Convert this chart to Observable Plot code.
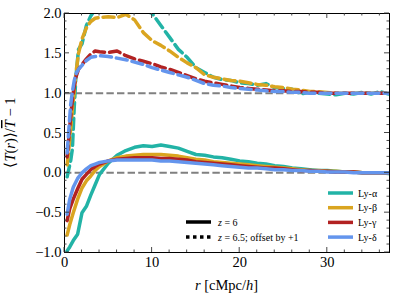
<!DOCTYPE html>
<html><head><meta charset="utf-8">
<script src="https://cdn.jsdelivr.net/npm/d3@7"></script>
<script src="https://cdn.jsdelivr.net/npm/@observablehq/plot@0.6"></script>
<style>body{margin:0;background:#fff}</style>
</head><body><div id="chart"></div>
<script>
const seriesNames = ["Ly-α","Ly-β","Ly-γ","Ly-δ"];
const seriesColors = ["#22b3a6","#daa520","#b22222","#6495ed"];

// z = 6 (solid)
const rSolid = [0.3,0.6,1,1.5,2,2.5,3,3.5,4,5,6,7,8,9,10,11,12,13,14,15,16,17,18,19,20,21,22,23,24,25,26,27,28,29,30,31,32,33,34,35,36,37];
const alphaZ6 = [-0.98,-0.93,-0.85,-0.77,-0.5,-0.42,-0.28,-0.15,-0.02,0.12,0.22,0.28,0.32,0.34,0.33,0.35,0.33,0.31,0.27,0.23,0.22,0.2,0.19,0.17,0.15,0.14,0.12,0.11,0.09,0.08,0.06,0.05,0.04,0.03,0.03,0.02,0.01,0.01,0.0,0.0,0.0,-0.01];
const betaZ6  = [-0.78,-0.65,-0.5,-0.33,-0.19,-0.1,-0.04,0.03,0.08,0.15,0.19,0.21,0.22,0.23,0.23,0.23,0.22,0.21,0.19,0.17,0.16,0.14,0.13,0.12,0.11,0.1,0.09,0.08,0.07,0.06,0.05,0.04,0.03,0.03,0.02,0.02,0.01,0.01,0.0,0.0,0.0,0.0];
const gammaZ6 = [-0.6,-0.45,-0.33,-0.2,-0.08,-0.02,0.04,0.08,0.11,0.15,0.17,0.18,0.19,0.19,0.19,0.18,0.18,0.17,0.16,0.14,0.13,0.12,0.11,0.1,0.09,0.08,0.07,0.06,0.06,0.05,0.04,0.03,0.03,0.02,0.02,0.01,0.01,0.01,0.0,0.0,0.0,0.0];
const deltaZ6 = [-0.52,-0.33,-0.18,-0.07,0.0,0.05,0.09,0.11,0.13,0.15,0.16,0.16,0.16,0.16,0.16,0.15,0.15,0.14,0.13,0.12,0.11,0.1,0.09,0.08,0.07,0.06,0.06,0.05,0.04,0.04,0.03,0.03,0.02,0.02,0.01,0.01,0.01,0.0,0.0,0.0,0.0,0.0];

// z = 6.5 offset by +1 (dashed)
const rDashed = [0.3,0.5,0.7,0.9,1.1,1.3,1.6,2,2.5,3,3.5,4,5,6,7,8,9,10,11,12,13,14,15,16,17,18,19,20,21,22,23,24,25,26,27,28,29,30,31,32,33,34,35,36,37];
const alphaZ65 = [-0.05,0.05,0.15,0.3,0.8,1.2,1.55,1.62,1.85,1.97,2.05,2.1,2.15,2.15,2.12,2.1,2.05,2.0,1.85,1.7,1.55,1.45,1.32,1.26,1.2,1.17,1.16,1.13,1.12,1.1,1.12,1.07,1.06,1.05,0.99,1.01,1.0,0.99,0.98,1.0,0.99,1.01,0.99,1.02,0.99];
const betaZ65  = [0.1,0.3,0.55,0.8,1.0,1.25,1.5,1.68,1.82,1.9,1.94,1.95,1.96,1.95,1.99,1.92,1.76,1.66,1.6,1.53,1.45,1.38,1.32,1.23,1.2,1.18,1.16,1.15,1.13,1.11,1.1,1.08,1.07,1.05,1.04,1.02,1.02,1.01,1.0,1.0,1.0,1.0,1.0,1.0,1.0];
const gammaZ65 = [0.2,0.45,0.7,0.92,1.08,1.2,1.3,1.36,1.43,1.49,1.53,1.52,1.51,1.53,1.47,1.43,1.4,1.37,1.33,1.3,1.26,1.22,1.18,1.15,1.13,1.11,1.09,1.07,1.06,1.05,1.04,1.03,1.03,1.02,1.02,1.01,1.01,1.0,1.0,1.0,1.0,1.0,1.0,1.0,1.0];
const deltaZ65 = [0.25,0.55,0.85,1.02,1.15,1.24,1.3,1.35,1.41,1.45,1.46,1.47,1.46,1.44,1.42,1.39,1.36,1.32,1.29,1.26,1.23,1.2,1.16,1.12,1.1,1.09,1.07,1.06,1.05,1.04,1.03,1.02,1.02,1.01,1.01,1.0,1.0,1.0,1.0,1.0,1.0,1.0,1.0,1.0,1.0];

const xTicks = [0,10,20,30];
const yTicks = [-1,-0.5,0,0.5,1,1.5,2];
const refLines = [0,1];

const solid = [alphaZ6,betaZ6,gammaZ6,deltaZ6];
const dashed = [alphaZ65,betaZ65,gammaZ65,deltaZ65];

const lineMarks = [];
for (let i = 0; i < 4; i++) {
  lineMarks.push(Plot.line(rDashed.map((r,j)=>({r, v: dashed[i][j]})), {x:"r", y:"v", stroke: seriesColors[i], strokeWidth: 3.5, strokeDasharray: "11,5", clip: true}));
}
for (let i = 0; i < 4; i++) {
  lineMarks.push(Plot.line(rSolid.map((r,j)=>({r, v: solid[i][j]})), {x:"r", y:"v", stroke: seriesColors[i], strokeWidth: 3.5, clip: true}));
}

const plot = Plot.plot({
  width: 397, height: 297,
  marginLeft: 64, marginRight: 8, marginTop: 13, marginBottom: 45,
  x: {domain: [0, 37.1]},
  y: {domain: [-1, 2]},
  style: {fontFamily: "Liberation Serif, serif", fontSize: "14.5px", background: "white", color: "black", overflow: "visible"},
  marks: [
    Plot.ruleY(refLines, {stroke: "#808080", strokeWidth: 2, strokeDasharray: "7.4,3.2"}),
    ...lineMarks,
    Plot.axisX({ticks: xTicks, tickSize: 0, tickPadding: 4, label: null, tickFormat: d => String(d)}),
    Plot.axisY({ticks: yTicks, tickSize: 0, tickPadding: 3, label: null, tickFormat: d3.format(".1f")}),
    Plot.frame({stroke: "black", strokeWidth: 1})
  ]
});
document.getElementById("chart").appendChild(plot);

const svg = d3.select(plot);
const sx = plot.scale("x"), sy = plot.scale("y");
const x0 = sx.apply(0), x1 = 397 - 8, y0 = 297 - 45, y1 = 13;
const g = svg.append("g").attr("stroke", "#333").attr("stroke-width", 0.9);
for (let v = 0; v <= 37; v += 2) {
  const major = v % 10 === 0, L = major ? 5 : 2.5, px = sx.apply(v);
  g.append("line").attr("x1", px).attr("x2", px).attr("y1", y0).attr("y2", y0 - L);
  g.append("line").attr("x1", px).attr("x2", px).attr("y1", y1).attr("y2", y1 + L);
}
for (let k = -10; k <= 20; k++) {
  const v = k / 10, major = k % 5 === 0, L = major ? 5 : 2.5, py = sy.apply(v);
  g.append("line").attr("y1", py).attr("y2", py).attr("x1", x0).attr("x2", x0 + L);
  g.append("line").attr("y1", py).attr("y2", py).attr("x1", x1).attr("x2", x1 - L);
}

const font = "Liberation Serif, serif";
const yl = svg.append("text").attr("transform", `translate(15,${(y0+y1)/2}) rotate(-90)`)
  .attr("text-anchor", "middle").attr("font-family", font).attr("font-size", 14.5).attr("fill", "black");
yl.append("tspan").text("⟨");
yl.append("tspan").attr("font-style", "italic").text("T");
yl.append("tspan").text("(");
yl.append("tspan").attr("font-style", "italic").text("r");
yl.append("tspan").text(")⟩/");
yl.append("tspan").attr("font-style", "italic").attr("text-decoration", "overline").text("T");
yl.append("tspan").text(" − 1");
const xl = svg.append("text").attr("x", (x0+x1)/2).attr("y", 290).attr("text-anchor", "middle")
  .attr("font-family", font).attr("font-size", 14.5).attr("fill", "black");
xl.append("tspan").attr("font-style", "italic").text("r");
xl.append("tspan").text(" [cMpc/");
xl.append("tspan").attr("font-style", "italic").text("h");
xl.append("tspan").text("]");

const lg = svg.append("g").attr("font-family", font).attr("font-size", 10).attr("text-anchor", "start").attr("fill", "black");
seriesNames.forEach((name, i) => {
  const yy = 193 + i * 14.7;
  lg.append("line").attr("x1", 328).attr("x2", 353).attr("y1", yy).attr("y2", yy)
    .attr("stroke", seriesColors[i]).attr("stroke-width", 3.5);
  lg.append("text").attr("x", 358).attr("y", yy + 3.5).attr("text-anchor", "start").text(name);
});
const styles = [{d: null, t: ["z", " = 6"]}, {d: "3.5,3.5", t: ["z", " = 6.5; offset by +1"]}];
styles.forEach((s, i) => {
  const yy = 222 + i * 15;
  const ln = lg.append("line").attr("x1", 186).attr("x2", 211).attr("y1", yy).attr("y2", yy)
    .attr("stroke", "black").attr("stroke-width", 3.5);
  if (s.d) ln.attr("stroke-dasharray", s.d);
  const t = lg.append("text").attr("x", 218).attr("y", yy + 3.5).attr("text-anchor", "start");
  t.append("tspan").attr("font-style", "italic").text(s.t[0]);
  t.append("tspan").text(s.t[1]);
});
</script></body></html>
